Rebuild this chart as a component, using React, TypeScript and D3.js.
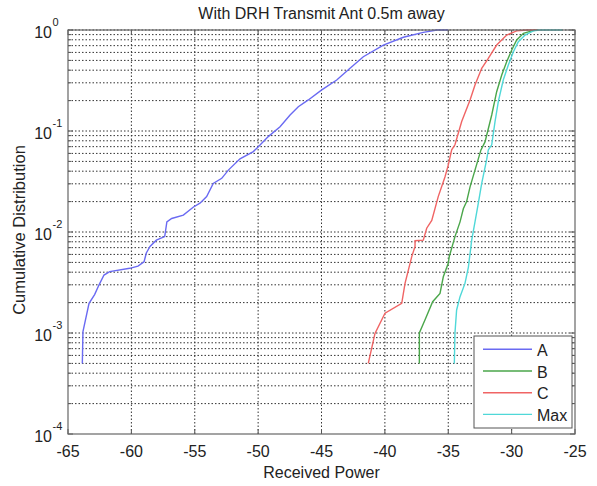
import React from "react";
import * as d3 from "d3";

const powerA = [-63.87, -63.82, -63.34, -62.9, -62.55, -62.16, -61.71, -60.13, -59.48, -59.0, -58.82, -58.53, -58.03, -57.37, -57.2, -56.82, -55.9, -55.1, -54.59, -54.06, -53.54, -52.87, -52.35, -51.43, -50.38, -49.85, -49.2, -48.27, -47.48, -46.83, -46.04, -44.98, -43.8, -42.75, -41.7, -40.12, -38.54, -36.97, -35.9, -35.0];
const probA = [5e-4, 1.03e-3, 1.97e-3, 2.4e-3, 3e-3, 3.75e-3, 4.05e-3, 4.37e-3, 4.6e-3, 5.08e-3, 6.2e-3, 7.2e-3, 8.3e-3, 9e-3, 1.26e-2, 1.36e-2, 1.47e-2, 1.77e-2, 1.93e-2, 2.24e-2, 3.03e-2, 3.4e-2, 4.1e-2, 5.3e-2, 6.25e-2, 7.26e-2, 8.8e-2, 0.11, 0.144, 0.174, 0.203, 0.255, 0.32, 0.418, 0.544, 0.71, 0.847, 0.948, 1, 1];

const powerB = [-37.28, -37.28, -36.83, -36.23, -35.65, -35.39, -35.0, -34.92, -34.47, -34.07, -33.81, -33.55, -33.28, -32.89, -32.42, -32.1, -31.57, -31.18, -30.78, -30.39, -29.99, -29.6, -29.07, -28.41, -28.0];
const probB = [5e-4, 1e-3, 1.35e-3, 2.04e-3, 2.47e-3, 3.6e-3, 4.9e-3, 5.7e-3, 9e-3, 1.26e-2, 1.7e-2, 2e-2, 2.8e-2, 4.1e-2, 6.5e-2, 7.8e-2, 0.144, 0.245, 0.358, 0.485, 0.634, 0.796, 0.927, 0.98, 1];

const powerC = [-41.31, -40.78, -39.99, -38.67, -38.41, -37.88, -37.62, -37.62, -36.97, -36.7, -36.3, -35.79, -35.26, -35.0, -34.73, -34.47, -33.94, -33.28, -32.89, -32.36, -31.84, -31.18, -30.39, -29.6, -28.8, -28.0];
const probC = [5e-4, 9.9e-4, 1.57e-3, 1.97e-3, 3.1e-3, 5.7e-3, 7.2e-3, 8.2e-3, 8.3e-3, 1.09e-2, 1.3e-2, 2.24e-2, 3.5e-2, 4.6e-2, 6.5e-2, 7.3e-2, 0.124, 0.203, 0.285, 0.418, 0.524, 0.71, 0.892, 0.98, 1, 1];

const powerMax = [-34.52, -34.47, -34.34, -34.07, -33.68, -33.41, -33.15, -32.89, -32.63, -32.36, -31.97, -31.84, -31.57, -31.31, -31.05, -30.66, -30.26, -29.86, -29.47, -28.94, -28.28, -27.76, -26.0];
const probMax = [5e-4, 1e-3, 1.69e-3, 2.29e-3, 3.1e-3, 4.5e-3, 8.3e-3, 1.26e-2, 1.92e-2, 3.03e-2, 5.2e-2, 6.5e-2, 7.3e-2, 0.124, 0.195, 0.32, 0.45, 0.61, 0.766, 0.892, 0.98, 1, 1];

const seriesNames = ["A", "B", "C", "Max"];
const seriesColors = ["#6a6af2", "#4aa64a", "#f06464", "#4fd8d8"];
const xTicks = [-65, -60, -55, -50, -45, -40, -35, -30, -25];
const yExponents = [0, -1, -2, -3, -4];
const titleText = "With DRH Transmit Ant 0.5m away";
const xLabel = "Received Power";
const yLabel = "Cumulative Distribution";

const W = 597, H = 486;
const M = { left: 68, right: 575, top: 30, bottom: 434 };
const FONT = "'Liberation Sans', Arial, Helvetica, sans-serif";

export default function App() {
  const x = d3.scaleLinear().domain([-65, -25]).range([M.left, M.right]);
  const y = d3.scaleLog().domain([1e-4, 1]).range([M.bottom, M.top]);
  const line = d3.line<[number, number]>().x((d) => x(d[0])).y((d) => y(d[1]));
  const series = [
    [powerA, probA],
    [powerB, probB],
    [powerC, probC],
    [powerMax, probMax],
  ].map(([xs, ps]) => xs.map((v, i) => [v, ps[i]] as [number, number]));

  const minor: number[] = [];
  for (let e = -4; e < 0; e++) for (let k = 1; k <= 9; k++) minor.push(k * Math.pow(10, e));
  minor.push(1);

  const gridStyle = { stroke: "#333", strokeWidth: 1, strokeDasharray: "1.5,2" };
  const leg = { x0: 474, y0: 336, x1: 572, y1: 428 };

  return (
    <svg width={W} height={H} style={{ position: "absolute", left: 0, top: 0, background: "#fff" }} fontFamily={FONT}>
      <rect x={M.left} y={M.top} width={M.right - M.left} height={M.bottom - M.top} fill="#fff" />
      {/* grid */}
      {xTicks.slice(1, -1).map((t) => (
        <line key={"gx" + t} x1={x(t)} x2={x(t)} y1={M.top} y2={M.bottom} {...gridStyle} />
      ))}
      {minor.slice(1).map((v, i) => (
        <line key={"gy" + i} x1={M.left} x2={M.right} y1={y(v)} y2={y(v)} {...gridStyle} />
      ))}
      {/* ticks */}
      {xTicks.map((t) => (
        <g key={"tx" + t}>
          <line x1={x(t)} x2={x(t)} y1={M.bottom} y2={M.bottom - 5} stroke="#555" />
          <line x1={x(t)} x2={x(t)} y1={M.top} y2={M.top + 5} stroke="#555" />
        </g>
      ))}
      {minor.map((v, i) => {
        const major = Math.abs(Math.log10(v) - Math.round(Math.log10(v))) < 1e-9;
        const len = major ? 5 : 3;
        return (
          <g key={"ty" + i}>
            <line x1={M.left} x2={M.left + len} y1={y(v)} y2={y(v)} stroke="#555" />
            <line x1={M.right} x2={M.right - len} y1={y(v)} y2={y(v)} stroke="#555" />
          </g>
        );
      })}
      {/* curves */}
      {series.map((s, i) => (
        <path key={"s" + i} d={line(s) || ""} fill="none" stroke={seriesColors[i]} strokeWidth={1.4} />
      ))}
      {/* frame */}
      <rect x={M.left} y={M.top} width={M.right - M.left} height={M.bottom - M.top} fill="none" stroke="#666" strokeWidth={1.2} />
      {/* tick labels */}
      {xTicks.map((t) => (
        <text key={"lx" + t} x={x(t)} y={451} textAnchor="middle" dominantBaseline="central" fontSize={16} fill="#222">
          {t}
        </text>
      ))}
      {yExponents.map((e) => (
        <g key={"ly" + e}>
          <text x={52} y={y(Math.pow(10, e)) + 2} textAnchor="end" dominantBaseline="central" fontSize={16} fill="#222">
            10
          </text>
          <text x={52.5} y={y(Math.pow(10, e)) - 8} textAnchor="start" dominantBaseline="central" fontSize={11} fill="#222">
            {e}
          </text>
        </g>
      ))}
      {/* labels */}
      <text x={(M.left + M.right) / 2} y={13} textAnchor="middle" dominantBaseline="central" fontSize={16} fill="#222">
        {titleText}
      </text>
      <text x={(M.left + M.right) / 2} y={472} textAnchor="middle" dominantBaseline="central" fontSize={16} fill="#222">
        {xLabel}
      </text>
      <text
        transform={`translate(19,${(M.top + M.bottom) / 2 - 2}) rotate(-90)`}
        textAnchor="middle"
        dominantBaseline="central"
        fontSize={16.5}
        fill="#222"
      >
        {yLabel}
      </text>
      {/* legend */}
      <rect x={leg.x0} y={leg.y0} width={leg.x1 - leg.x0} height={leg.y1 - leg.y0} fill="#fff" stroke="#555" strokeWidth={1} />
      {seriesNames.map((n, i) => {
        const ly = 349.3 + i * 21.7;
        return (
          <g key={"lg" + n}>
            <line x1={483} x2={532} y1={ly} y2={ly} stroke={seriesColors[i]} strokeWidth={1.4} />
            <text x={537} y={ly + 1} dominantBaseline="central" fontSize={16} fill="#222">
              {n}
            </text>
          </g>
        );
      })}
    </svg>
  );
}
